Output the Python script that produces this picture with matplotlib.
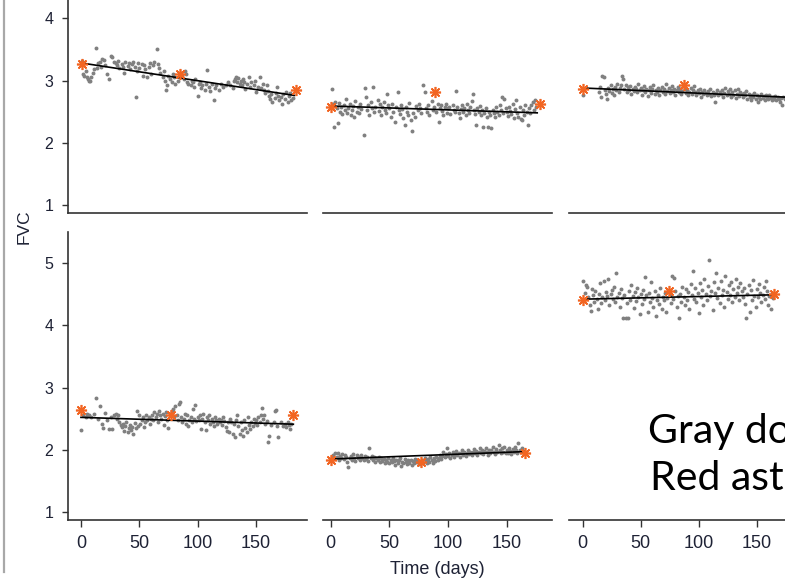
import matplotlib
matplotlib.use("Agg")
import matplotlib.pyplot as plt
from matplotlib.lines import Line2D

W, H = 785, 583

# gray dots: (day, FVC) per patient panel
PTS_A = [(1,3.32),(2,3.10),(3,3.08),(4,3.15),(5,3.05),(6,3.02),(7,2.99),(8,3.00),(9,3.05),(10,3.12),
         (11,3.18),(13,3.52),(14,3.20),(15,3.28),(16,3.30),(17,3.22),(18,3.35),(20,3.33),(21,3.25),(22,3.10),
         (24,3.02),(26,3.40),(27,3.38),(28,3.30),(30,3.28),(31,3.25),(32,3.32),(33,3.20),(35,3.27),(36,3.22),
         (37,3.12),(38,3.30),(40,3.24),(41,3.28),(42,3.18),(44,3.26),(45,3.30),(46,3.22),(47,2.74),(48,3.15),
         (49,3.28),(50,3.20),(52,3.27),(53,3.08),(54,3.25),(55,3.18),(57,3.05),(58,3.22),(59,3.28),(60,3.10),
         (62,3.25),(63,3.30),(65,3.51),(66,3.27),(67,3.20),(68,3.12),(70,3.05),(71,3.15),(72,3.00),(73,2.85),
         (74,2.92),(75,3.08),(76,3.02),(78,2.98),(79,3.10),(80,3.05),(81,2.95),(83,3.00),(86,3.12),(87,3.08),
         (88,3.02),(89,3.15),(90,3.10),(91,2.98),(92,2.95),(94,2.93),(95,3.00),(96,2.97),(97,2.90),(98,3.02),
         (100,2.75),(101,2.95),(102,2.98),(103,2.88),(104,2.92),(106,2.85),(107,2.95),(108,3.17),(110,2.90),
         (111,2.83),(112,2.95),(114,2.68),(115,2.88),(116,2.92),(118,2.85),(120,2.95),(122,2.90),(124,2.93),
         (126,2.98),(128,2.92),(130,2.88),(131,3.00),(132,3.02),(133,3.05),(134,2.98),(135,3.04),(136,2.95),
         (137,3.00),(138,2.92),(139,3.03),(140,2.97),(141,2.87),(142,2.95),(144,3.05),(145,2.90),(146,2.98),
         (148,2.93),(149,3.00),(150,2.82),(152,2.90),(153,3.05),(154,2.88),(156,2.95),(157,2.85),(158,2.80),
         (159,2.92),(160,2.83),(161,2.75),(162,2.70),(163,2.78),(164,2.65),(166,2.72),(167,2.80),(168,2.90),
         (169,2.75),(170,2.68),(171,2.73),(172,2.62),(173,2.78),(175,2.70),(176,2.82),(177,2.65),(178,2.75),
         (179,2.80),(180,2.68),(182,2.72)]
PTS_B = [(1,2.86),(2,2.62),(3,2.25),(4,2.66),(5,2.55),(6,2.31),(7,2.64),(8,2.50),(9,2.58),(10,2.46),
         (11,2.60),(12,2.52),(13,2.71),(14,2.48),(15,2.56),(16,2.63),(17,2.45),(18,2.53),(19,2.59),(20,2.42),
         (21,2.67),(22,2.50),(23,2.57),(24,2.47),(25,2.62),(26,2.54),(28,2.13),(29,2.88),(30,2.74),(31,2.52),
         (32,2.60),(33,2.45),(34,2.65),(35,2.55),(36,2.89),(37,2.49),(38,2.58),(40,2.69),(41,2.51),(42,2.62),
         (43,2.44),(44,2.57),(45,2.66),(46,2.53),(47,2.48),(48,2.79),(49,2.60),(50,2.55),(51,2.42),(52,2.63),
         (53,2.50),(55,2.34),(56,2.58),(57,2.81),(58,2.52),(59,2.46),(60,2.61),(61,2.54),(62,2.40),(63,2.28),
         (64,2.57),(65,2.50),(66,2.45),(67,2.64),(68,2.37),(69,2.19),(70,2.48),(72,2.42),(73,2.59),(74,2.52),
         (75,2.62),(76,2.55),(77,2.47),(79,2.93),(80,2.81),(81,2.56),(82,2.50),(83,2.60),(84,2.45),(86,2.67),
         (87,2.53),(88,2.58),(90,2.49),(91,2.63),(92,2.33),(93,2.55),(94,2.60),(95,2.51),(96,2.44),(97,2.57),
         (98,2.62),(99,2.48),(100,2.55),(101,2.58),(102,2.46),(104,2.61),(105,2.52),(106,2.50),(107,2.83),
         (108,2.57),(109,2.47),(110,2.39),(111,2.54),(112,2.60),(113,2.49),(114,2.56),(115,2.44),(116,2.62),
         (117,2.52),(118,2.48),(119,2.58),(120,2.67),(121,2.79),(122,2.53),(123,2.46),(124,2.28),(125,2.55),
         (126,2.50),(127,2.59),(128,2.44),(129,2.52),(130,2.26),(131,2.48),(132,2.56),(133,2.42),(134,2.25),
         (135,2.50),(136,2.45),(137,2.24),(138,2.53),(139,2.48),(140,2.41),(141,2.57),(142,2.50),(143,2.45),
         (144,2.60),(145,2.52),(146,2.74),(147,2.47),(148,2.71),(149,2.55),(150,2.49),(151,2.43),(152,2.58),
         (153,2.51),(154,2.46),(155,2.62),(156,2.40),(157,2.54),(158,2.69),(159,2.48),(160,2.42),(161,2.57),
         (162,2.38),(163,2.36),(164,2.52),(165,2.45),(166,2.60),(167,2.49),(168,2.28),(169,2.55),(170,2.47),
         (171,2.61),(172,2.66),(173,2.53),(174,2.69),(175,2.58)]
PTS_C = [(0,2.77),(14,2.82),(15,2.90),(16,2.73),(17,3.08),(18,3.05),(19,2.85),(20,2.79),(21,2.70),(22,2.88),
         (23,2.83),(24,2.92),(25,2.80),(26,2.87),(27,2.76),(28,2.90),(29,2.84),(30,2.95),(31,2.81),(32,2.88),
         (33,2.92),(34,3.08),(35,3.02),(36,2.86),(37,2.93),(38,2.82),(39,2.89),(40,2.85),(41,2.91),(42,2.79),
         (43,2.87),(44,2.83),(45,2.90),(46,2.86),(47,2.81),(48,2.94),(49,2.84),(50,2.88),(51,2.77),(52,2.85),
         (53,2.91),(54,2.82),(55,2.87),(56,2.75),(57,2.84),(58,2.89),(59,2.80),(60,2.86),(61,2.92),(62,2.78),
         (63,2.85),(64,2.82),(65,2.88),(66,2.76),(67,2.84),(68,2.90),(69,2.81),(70,2.86),(71,2.79),(72,2.95),
         (73,2.83),(74,2.88),(75,2.80),(76,2.85),(77,2.91),(78,2.82),(79,2.87),(80,2.77),(81,2.84),(82,2.89),
         (83,2.81),(84,2.86),(85,2.78),(86,2.83),(88,2.87),(89,2.80),(90,2.84),(91,2.76),(92,2.82),(93,2.88),
         (94,2.79),(95,2.85),(96,2.91),(97,2.81),(98,2.77),(99,2.84),(100,2.80),(101,2.86),(102,2.74),(103,2.82),
         (104,2.78),(105,2.84),(106,2.80),(107,2.76),(108,2.83),(109,2.79),(110,2.86),(111,2.75),(112,2.81),
         (113,2.77),(114,2.66),(115,2.80),(116,2.84),(117,2.76),(118,2.82),(119,2.78),(120,2.85),(121,2.73),
         (122,2.80),(123,2.88),(124,2.77),(125,2.83),(126,2.79),(127,2.86),(128,2.74),(129,2.81),(130,2.77),
         (131,2.84),(132,2.72),(133,2.79),(134,2.86),(135,2.75),(136,2.82),(137,2.78),(138,2.73),(139,2.80),
         (140,2.76),(141,2.83),(142,2.71),(143,2.78),(144,2.74),(145,2.69),(146,2.77),(147,2.73),(148,2.80),
         (149,2.70),(150,2.76),(151,2.66),(152,2.74),(153,2.71),(154,2.78),(155,2.72),(156,2.75),(157,2.69),
         (158,2.77),(159,2.73),(160,2.70),(161,2.76),(162,2.72),(163,2.68),(164,2.74),(165,2.71),(166,2.75),
         (167,2.69),(168,2.73),(169,2.70),(170,2.66),(171,2.72),(172,2.61),(173,2.74),(174,2.70),(175,2.73)]
PTS_D = [(0,2.32),(2,2.55),(4,2.52),(5,2.58),(7,2.56),(9,2.53),(11,2.57),(13,2.83),(15,2.50),(16,2.71),
         (18,2.42),(19,2.35),(21,2.59),(22,2.48),(24,2.33),(26,2.52),(27,2.34),(28,2.56),(30,2.58),(31,2.50),
         (32,2.55),(33,2.44),(34,2.40),(35,2.37),(36,2.42),(37,2.30),(38,2.38),(39,2.45),(40,2.28),(41,2.35),
         (42,2.40),(43,2.32),(44,2.37),(45,2.26),(46,2.43),(47,2.35),(48,2.62),(49,2.38),(50,2.55),(51,2.42),
         (52,2.48),(53,2.52),(54,2.36),(55,2.45),(56,2.55),(57,2.48),(58,2.53),(59,2.42),(60,2.50),(61,2.56),
         (62,2.47),(63,2.61),(64,2.52),(65,2.58),(66,2.45),(67,2.62),(68,2.55),(69,2.50),(70,2.58),(71,2.40),
         (72,2.54),(73,2.60),(74,2.48),(75,2.35),(76,2.57),(78,2.62),(79,2.66),(80,2.52),(81,2.70),(82,2.55),
         (83,2.48),(84,2.73),(85,2.77),(86,2.52),(87,2.45),(88,2.50),(89,2.58),(90,2.42),(91,2.55),(92,2.38),
         (93,2.47),(94,2.52),(95,2.44),(96,2.66),(97,2.50),(98,2.72),(99,2.46),(100,2.53),(101,2.48),(102,2.55),
         (103,2.33),(104,2.50),(105,2.57),(106,2.45),(107,2.32),(108,2.52),(109,2.48),(110,2.55),(111,2.42),
         (112,2.50),(113,2.45),(114,2.38),(115,2.53),(116,2.47),(117,2.42),(118,2.50),(119,2.45),(120,2.48),
         (121,2.40),(122,2.52),(123,2.46),(124,2.36),(125,2.30),(126,2.44),(127,2.28),(128,2.50),(129,2.45),
         (130,2.26),(131,2.42),(132,2.20),(133,2.48),(134,2.56),(135,2.38),(136,2.25),(137,2.44),(138,2.32),
         (139,2.22),(140,2.47),(141,2.35),(142,2.29),(143,2.52),(144,2.40),(145,2.33),(146,2.45),(147,2.38),
         (148,2.50),(149,2.43),(150,2.47),(151,2.40),(152,2.52),(153,2.45),(154,2.56),(155,2.67),(156,2.49),
         (157,2.55),(158,2.42),(159,2.46),(160,2.13),(161,2.22),(163,2.40),(165,2.45),(166,2.62),(167,2.64),
         (168,2.38),(169,2.20),(171,2.44),(173,2.38),(175,2.41),(176,2.36),(177,2.45),(178,2.39),(179,2.34),
         (180,2.42)]
PTS_E = [(1,1.88),(2,1.92),(3,1.86),(4,1.94),(5,1.89),(6,1.95),(7,1.83),(8,1.90),(9,1.87),(10,1.93),
         (11,1.85),(12,1.91),(13,1.88),(14,1.80),(15,1.72),(16,1.86),(17,1.90),(18,1.84),(19,1.93),(20,1.87),
         (21,1.82),(22,1.91),(23,1.86),(24,1.89),(25,1.84),(26,1.92),(27,1.87),(28,1.83),(29,1.90),(30,1.85),
         (31,1.88),(32,1.82),(33,2.02),(34,1.86),(35,1.90),(36,1.84),(37,1.88),(38,1.81),(39,1.87),(40,1.83),
         (41,1.89),(42,1.80),(43,1.86),(44,1.82),(45,1.85),(46,1.79),(47,1.84),(48,1.81),(49,1.87),(50,1.78),
         (51,1.83),(52,1.80),(53,1.86),(54,1.82),(55,1.76),(56,1.84),(57,1.79),(58,1.83),(59,1.86),(60,1.74),
         (61,1.81),(62,1.78),(63,1.85),(64,1.80),(65,1.77),(66,1.83),(67,1.79),(68,1.84),(69,1.76),(70,1.82),
         (71,1.78),(72,1.85),(73,1.80),(74,1.83),(75,1.77),(76,1.81),(78,1.84),(79,1.79),(80,1.86),(81,1.82),
         (82,1.78),(83,1.85),(84,1.81),(85,1.88),(86,1.83),(87,1.79),(88,1.86),(89,1.82),(90,1.89),(91,1.84),
         (92,1.87),(93,1.92),(94,1.85),(95,1.90),(96,1.96),(97,1.88),(98,1.93),(99,2.03),(100,1.90),(101,1.94),
         (102,1.87),(103,1.92),(104,1.96),(105,1.89),(106,1.93),(107,1.98),(108,1.91),(109,1.95),(110,1.88),
         (111,1.94),(112,1.99),(113,1.92),(114,1.96),(115,1.90),(116,1.95),(117,2.00),(118,1.93),(119,1.97),
         (120,1.91),(121,1.96),(122,2.01),(123,1.94),(124,1.98),(125,1.92),(126,1.97),(127,2.02),(128,1.95),
         (129,1.99),(130,1.93),(131,1.98),(132,2.03),(133,1.96),(134,1.92),(135,2.00),(136,1.95),(137,1.99),
         (138,2.04),(139,1.97),(140,1.93),(141,2.01),(142,1.96),(143,2.08),(144,1.99),(145,1.94),(146,2.02),
         (147,1.97),(148,2.05),(149,1.95),(150,2.00),(151,1.94),(152,2.03),(153,1.98),(154,1.93),(155,2.01),
         (156,1.96),(157,2.04),(158,1.99),(159,1.94),(160,2.11),(161,2.00),(162,1.97),(163,2.02),(164,1.98)]
PTS_F = [(0,4.71),(2,4.52),(3,4.65),(4,4.62),(5,4.45),(6,4.33),(7,4.23),(8,4.58),(9,4.48),(10,4.38),
         (11,4.55),(12,4.42),(13,4.27),(14,4.50),(15,4.68),(16,4.36),(17,4.45),(18,4.72),(19,4.40),(20,4.53),
         (21,4.47),(22,4.75),(23,4.33),(24,4.50),(25,4.57),(26,4.42),(27,4.62),(28,4.38),(29,4.84),(30,4.46),
         (31,4.52),(32,4.30),(33,4.58),(34,4.44),(35,4.11),(36,4.49),(37,4.12),(38,4.36),(39,4.11),(40,4.55),
         (41,4.41),(42,4.65),(43,4.47),(44,4.28),(45,4.53),(46,4.39),(47,4.60),(48,4.45),(49,4.18),(50,4.50),
         (51,4.34),(52,4.56),(53,4.42),(54,4.77),(55,4.48),(56,4.22),(57,4.52),(58,4.38),(59,4.70),(60,4.44),
         (61,4.30),(62,4.55),(63,4.15),(64,4.41),(65,4.49),(66,4.35),(67,4.60),(68,4.26),(69,4.46),(70,4.40),
         (71,4.52),(72,4.21),(73,4.44),(75,4.48),(76,4.36),(77,4.80),(78,4.42),(79,4.76),(80,4.55),(81,4.30),
         (82,4.47),(83,4.12),(84,4.51),(85,4.38),(86,4.62),(87,4.45),(88,4.33),(89,4.58),(90,4.41),(91,4.54),
         (92,4.27),(93,4.66),(94,4.48),(95,4.87),(96,4.43),(97,4.60),(98,4.37),(99,4.52),(100,4.20),(101,4.68),
         (102,4.46),(103,4.57),(104,4.32),(105,4.74),(106,4.50),(107,4.40),(108,4.63),(109,5.05),(110,4.47),
         (111,4.55),(112,4.24),(113,4.69),(114,4.52),(115,4.84),(116,4.44),(117,4.60),(118,4.36),(119,4.72),
         (120,4.49),(121,4.57),(122,4.30),(123,4.80),(124,4.53),(125,4.43),(126,4.65),(127,4.48),(128,4.70),
         (129,4.38),(130,4.59),(131,4.46),(132,4.75),(133,4.52),(134,4.62),(135,4.40),(136,4.68),(137,4.55),
         (138,4.45),(139,4.60),(140,4.34),(141,4.11),(142,4.50),(143,4.64),(144,4.22),(145,4.56),(146,4.41),
         (147,4.73),(148,4.47),(149,4.30),(150,4.58),(151,4.45),(152,4.66),(153,4.52),(154,4.38),(155,4.49),
         (156,4.61),(157,4.43),(158,4.71),(159,4.55),(160,4.33),(161,4.47),(162,4.27),(163,4.52),(164,4.44)]

# red asterisks (clinic visits) and fitted lines: (day, FVC)
STARS_A = [(1, 3.27), (85, 3.11), (184, 2.84)]
STARS_B = [(0, 2.58), (89, 2.81), (178, 2.63)]
STARS_C = [(0, 2.86), (87, 2.93)]
STARS_D = [(0, 2.645), (77, 2.55), (182, 2.55)]
STARS_E = [(0, 1.84), (77, 1.80), (166, 1.95)]
STARS_F = [(0, 4.40), (74, 4.55), (165, 4.50)]

LINE_A = [(1, 3.28), (183, 2.76)]
LINE_B = [(1, 2.59), (176, 2.48)]
LINE_C = [(0, 2.88), (178, 2.73)]
LINE_D = [(0, 2.52), (182, 2.41)]
LINE_E = [(0, 1.85), (166, 1.97)]
LINE_F = [(0, 4.42), (164, 4.49)]

X_TICKS = [0, 50, 100, 150]
Y_TICKS = [1, 2, 3, 4, 5]

# panel boxes in pixels (left, right) / (top, bottom) and x limits
COLS = [((68, 307), (-11.1, 193.7)), ((323, 552), (-6.6, 188.6)), ((569, 798), (-11.8, 185.6))]
ROWS = [(-75, 213), (232, 520)]
YLIM = (0.87, 5.5)

PANELS = [
    (PTS_A, STARS_A, LINE_A), (PTS_B, STARS_B, LINE_B), (PTS_C, STARS_C, LINE_C),
    (PTS_D, STARS_D, LINE_D), (PTS_E, STARS_E, LINE_E), (PTS_F, STARS_F, LINE_F),
]

TICK_COL = "#1e2235"
SPINE_COL = "#333333"

plt.rcParams["font.family"] = ["Liberation Sans", "DejaVu Sans"]

fig = plt.figure(figsize=(W / 100, H / 100), dpi=100)

for idx, (pts, stars, line) in enumerate(PANELS):
    r, c = divmod(idx, 3)
    (x0, x1), xlim = COLS[c]
    y0, y1 = ROWS[r]
    ax = fig.add_axes([x0 / W, 1 - y1 / H, (x1 - x0) / W, (y1 - y0) / H])
    ax.set_xlim(*xlim)
    ax.set_ylim(*YLIM)

    dx, dy = zip(*pts)
    ax.scatter(dx, dy, s=8, color="#808080", linewidths=0, zorder=2)
    lx, ly = zip(*line)
    ax.plot(lx, ly, color="black", lw=1.2, zorder=3)
    sx, sy = zip(*stars)
    ax.plot(sx, sy, ls="none", marker=(8, 2, 0), ms=8, mew=1.2,
            color="#f26522", zorder=4)

    for s in ("top", "right"):
        ax.spines[s].set_visible(False)
    ax.spines["bottom"].set_color(SPINE_COL)
    ax.spines["bottom"].set_linewidth(1.2)
    ax.spines["left"].set_color(SPINE_COL)
    ax.spines["left"].set_linewidth(1.2)

    if c == 0:
        ax.set_yticks(Y_TICKS)
        ax.tick_params(axis="y", length=4.5, width=1.0, color=SPINE_COL,
                       labelcolor=TICK_COL, labelsize=11.5, pad=6)
    else:
        ax.spines["left"].set_visible(False)
        ax.set_yticks([])

    if r == 1:
        ax.set_xticks(X_TICKS)
        ax.tick_params(axis="x", length=5, width=1.0, color=SPINE_COL,
                       labelcolor=TICK_COL, labelsize=13, pad=6)
    else:
        ax.set_xticks([])

fig.text(437 / W, 1 - 570 / H, "Time (days)", ha="center", va="center",
         fontsize=13, color=TICK_COL)
fig.text(24 / W, 1 - 227 / H, "FVC", ha="center", va="center",
         rotation=90, fontsize=12.5, color=TICK_COL)

# slide frame line on the left
fig.add_artist(Line2D([4 / W, 4 / W], [1 - 572 / H, 1], transform=fig.transFigure,
                      color="#a8a8a8", lw=1.6))

# overlaid slide text (runs off the right edge)
fig.text(648 / W, 1 - 443 / H, "Gray dots", ha="left", va="baseline",
         fontsize=29.5, family=["Lato", "DejaVu Sans"], color="black")
fig.text(650 / W, 1 - 490 / H, "Red asterisks", ha="left", va="baseline",
         fontsize=29.5, family=["Lato", "DejaVu Sans"], color="black")

fig.savefig("out.png", dpi=100)
